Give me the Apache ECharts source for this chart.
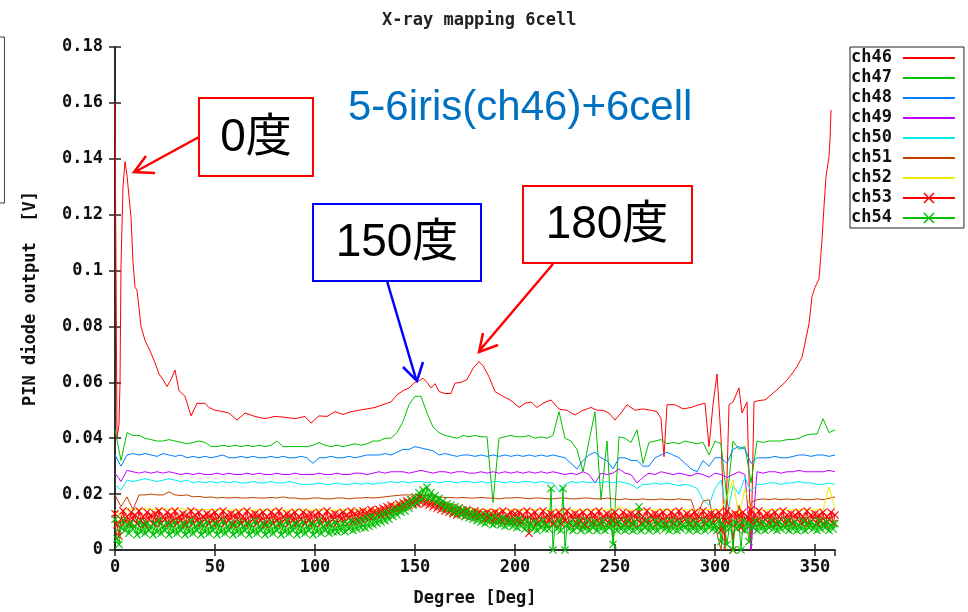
<!DOCTYPE html>
<html>
<head>
<meta charset="utf-8">
<script src="https://cdn.jsdelivr.net/npm/echarts@6/dist/echarts.min.js"></script>
<style>html,body{margin:0;padding:0;background:#fff;}#c{width:968px;height:612px;}</style>
</head>
<body>
<div id="c"></div>
<script>
// ---- data ----
const seriesNames = ['ch46','ch47','ch48','ch49','ch50','ch51','ch52','ch53','ch54'];
const xTicks = [0,50,100,150,200,250,300,350];
const yTicks = [0,0.02,0.04,0.06,0.08,0.1,0.12,0.14,0.16,0.18];

const ch46Deg = [
 0,0.5,1,2,2.5,3,4,5,6,8,
 9,10,11,13,15,18,20,22,24,26,
 28,30,32,35,38,39,41,45,47,50,
 54,57,61,65,70,75,80,85,90,95,
 98,102,106,110,114,118,122,126,130,134,
 138,141,144,147,150,152,154,156,158,160,
 162,165,168,170,173,176,179,182,184,187,
 190,194,198,202,205,208,211,214,218,222,
 226,230,234,238,241,244,247,250,253,256,
 260,264,268,271,273,274.5,276,280,284,288,
 292,295,297,299,301,303,305,307,309,312,
 313.5,316,318,319.5,322,325,328,332,335,338,
 341,343.5,345,347,348.5,350,352,353.5,354.5,355.5,
 357,357.5,358];
const ch46 = [
 0.160,0.160,0.040,0.045,0.060,0.102,0.130,0.139,0.134,0.119,
 0.103,0.094,0.093,0.080,0.075,0.0705,0.067,0.063,0.061,0.0585,
 0.061,0.0644,0.057,0.055,0.048,0.048,0.0525,0.0525,0.051,0.050,
 0.0495,0.049,0.0465,0.049,0.0478,0.047,0.0478,0.0475,0.047,0.0478,
 0.0454,0.048,0.0478,0.0495,0.0485,0.0495,0.050,0.0505,0.051,0.052,
 0.053,0.0555,0.057,0.058,0.060,0.0605,0.0615,0.060,0.058,0.0595,
 0.0567,0.056,0.056,0.0597,0.060,0.061,0.065,0.0674,0.066,0.062,
 0.0567,0.055,0.0535,0.051,0.0525,0.053,0.051,0.0525,0.0537,0.0504,
 0.050,0.0483,0.050,0.051,0.050,0.050,0.049,0.0465,0.049,0.052,
 0.050,0.0505,0.050,0.0495,0.047,0.0334,0.052,0.052,0.0505,0.051,
 0.052,0.0525,0.037,0.052,0.063,0.040,0.0,0.052,0.053,0.058,
 0.049,0.053,0.0,0.053,0.0535,0.0537,0.0555,0.058,0.060,0.0626,
 0.0656,0.069,0.074,0.081,0.0907,0.094,0.097,0.111,0.123,0.1336,
 0.1408,0.1467,0.1575];

// 3-degree sampling for ch47..ch52
const deg = [
 0,3,6,9,12,15,18,21,24,27,
 30,33,36,39,42,45,48,51,54,57,
 60,63,66,69,72,75,78,81,84,87,
 90,93,96,99,102,105,108,111,114,117,
 120,123,126,129,132,135,138,141,144,147,
 150,153,156,159,162,165,168,171,174,177,
 180,183,186,189,192,195,198,201,204,207,
 210,213,216,219,222,225,228,231,234,237,
 240,243,246,249,252,255,258,261,264,267,
 270,273,276,279,282,285,288,291,294,297,
 300,303,306,309,312,315,318,321,324,327,
 330,333,336,339,342,345,348,351,354,357,
 360];

const ch47 = [
 0.043,0.032,0.042,0.041,0.041,0.040,0.0395,0.039,0.039,0.0395,
 0.039,0.0385,0.038,0.0385,0.039,0.0385,0.037,0.037,0.0375,0.037,
 0.0375,0.037,0.0375,0.037,0.0375,0.037,0.0375,0.039,0.037,0.037,
 0.037,0.037,0.037,0.0375,0.0385,0.0375,0.037,0.0375,0.037,0.0375,
 0.038,0.0375,0.038,0.039,0.039,0.040,0.040,0.042,0.046,0.052,
 0.055,0.055,0.049,0.044,0.042,0.041,0.0405,0.040,0.041,0.0405,
 0.041,0.0405,0.0405,0.017,0.040,0.0405,0.041,0.0405,0.0405,0.041,
 0.040,0.0405,0.040,0.041,0.0495,0.040,0.039,0.036,0.028,0.039,
 0.0495,0.018,0.039,0.002,0.0405,0.040,0.0385,0.043,0.031,0.0385,
 0.039,0.0395,0.038,0.0385,0.038,0.039,0.0385,0.038,0.0385,0.034,
 0.039,0.038,0.018,0.039,0.036,0.037,0.024,0.039,0.0385,0.039,
 0.039,0.039,0.0395,0.0395,0.040,0.041,0.0415,0.0415,0.047,0.042,
 0.043];

const ch48 = [
 0.034,0.030,0.034,0.0345,0.034,0.0345,0.034,0.0335,0.0345,0.034,
 0.0335,0.034,0.033,0.0335,0.033,0.0335,0.033,0.0335,0.034,0.033,
 0.033,0.0335,0.033,0.0335,0.033,0.033,0.0335,0.033,0.0335,0.033,
 0.033,0.0335,0.033,0.031,0.033,0.033,0.0335,0.033,0.033,0.0335,
 0.033,0.0335,0.034,0.034,0.034,0.0345,0.034,0.035,0.036,0.036,
 0.037,0.0365,0.036,0.0355,0.034,0.0345,0.034,0.0335,0.034,0.034,
 0.0335,0.034,0.0335,0.034,0.0335,0.034,0.0335,0.034,0.0335,0.034,
 0.0335,0.034,0.0335,0.034,0.0335,0.033,0.031,0.029,0.032,0.034,
 0.035,0.033,0.032,0.029,0.033,0.033,0.032,0.032,0.030,0.030,
 0.033,0.034,0.035,0.034,0.033,0.031,0.029,0.028,0.032,0.030,
 0.033,0.033,0.031,0.036,0.037,0.036,0.031,0.033,0.033,0.033,
 0.0335,0.033,0.033,0.0335,0.034,0.034,0.0335,0.034,0.034,0.0335,
 0.034];

const ch49 = [
 0.0275,0.0245,0.0285,0.028,0.0275,0.028,0.0275,0.028,0.0275,0.028,
 0.0275,0.027,0.0275,0.027,0.0275,0.027,0.027,0.0275,0.027,0.0275,
 0.027,0.027,0.0275,0.027,0.0275,0.027,0.027,0.0275,0.027,0.027,
 0.0275,0.027,0.027,0.027,0.0275,0.027,0.027,0.0275,0.027,0.027,
 0.0275,0.0275,0.027,0.0275,0.028,0.0275,0.028,0.028,0.028,0.0275,
 0.028,0.0285,0.028,0.0275,0.028,0.028,0.0275,0.028,0.028,0.0275,
 0.0275,0.028,0.0275,0.028,0.0275,0.028,0.0275,0.028,0.0275,0.028,
 0.0275,0.028,0.0275,0.028,0.0275,0.027,0.0275,0.027,0.028,0.027,
 0.024,0.0275,0.027,0.0275,0.029,0.0275,0.027,0.024,0.026,0.0275,
 0.027,0.028,0.0275,0.027,0.0275,0.027,0.0265,0.0275,0.027,0.026,
 0.0275,0.027,0.026,0.027,0.028,0.027,0.0,0.028,0.0275,0.028,
 0.028,0.0275,0.028,0.028,0.0285,0.028,0.028,0.028,0.028,0.0285,
 0.028];

const ch50 = [
 0.0235,0.0215,0.025,0.0245,0.025,0.0255,0.025,0.0245,0.025,0.0255,
 0.025,0.0245,0.025,0.024,0.0245,0.024,0.0245,0.024,0.0245,0.024,
 0.0245,0.024,0.024,0.0245,0.024,0.024,0.0245,0.024,0.024,0.0245,
 0.024,0.0235,0.0235,0.0235,0.024,0.0235,0.0235,0.024,0.0235,0.0235,
 0.024,0.0235,0.024,0.0235,0.024,0.024,0.0245,0.024,0.0245,0.024,
 0.0245,0.0245,0.024,0.0245,0.024,0.0245,0.0245,0.024,0.0245,0.0245,
 0.024,0.0245,0.024,0.0245,0.0245,0.024,0.0245,0.024,0.0245,0.0245,
 0.024,0.0245,0.024,0.024,0.021,0.0235,0.0245,0.024,0.0245,0.024,
 0.0245,0.024,0.0245,0.024,0.0245,0.024,0.0235,0.022,0.0235,0.0235,
 0.024,0.0235,0.024,0.0235,0.023,0.0235,0.023,0.022,0.018,0.016,
 0.022,0.025,0.012,0.023,0.020,0.026,0.021,0.0235,0.0235,0.024,
 0.024,0.0235,0.024,0.024,0.0245,0.024,0.024,0.0235,0.0235,0.024,
 0.0235];

const ch51 = [
 0.0197,0.0155,0.019,0.0145,0.0197,0.0197,0.020,0.0197,0.0197,0.0208,
 0.0197,0.0195,0.0197,0.019,0.0192,0.0188,0.019,0.0186,0.0188,0.0186,
 0.0188,0.0186,0.0186,0.0188,0.0186,0.0186,0.0188,0.0186,0.019,0.0186,
 0.0186,0.0183,0.0183,0.0186,0.0186,0.0183,0.0183,0.0186,0.0186,0.0183,
 0.0186,0.0186,0.0188,0.0186,0.0188,0.019,0.0193,0.0195,0.0197,0.0197,
 0.0197,0.0197,0.0195,0.0193,0.019,0.0188,0.0188,0.0186,0.0188,0.0186,
 0.0186,0.0188,0.0186,0.0186,0.0183,0.0186,0.0186,0.0188,0.0186,0.0183,
 0.0186,0.0186,0.0183,0.0183,0.0186,0.0186,0.0183,0.0183,0.0186,0.0186,
 0.0183,0.0183,0.0186,0.0183,0.018,0.0183,0.018,0.018,0.0183,0.018,
 0.018,0.0183,0.018,0.018,0.0183,0.018,0.018,0.012,0.0175,0.018,
 0.009,0.0,0.018,0.004,0.016,0.006,0.017,0.018,0.0183,0.018,
 0.0183,0.018,0.0183,0.018,0.0183,0.018,0.018,0.0183,0.018,0.0185,
 0.019];

const ch52 = [
 0.0145,0.012,0.0148,0.0145,0.0145,0.0148,0.0145,0.0145,0.0148,0.0145,
 0.0145,0.0148,0.0145,0.0145,0.0143,0.0145,0.0145,0.0143,0.0145,0.0143,
 0.0143,0.0145,0.0143,0.0143,0.0145,0.0143,0.0143,0.0145,0.0143,0.0143,
 0.0143,0.0145,0.0143,0.0143,0.0145,0.0143,0.0143,0.0143,0.0145,0.0143,
 0.0145,0.0143,0.0145,0.0145,0.0145,0.015,0.0158,0.0168,0.0175,0.018,
 0.018,0.0178,0.0175,0.017,0.0165,0.016,0.0158,0.0155,0.015,0.0148,
 0.0145,0.0145,0.0143,0.0145,0.0143,0.0145,0.0143,0.0145,0.0143,0.0145,
 0.0143,0.0145,0.0143,0.0143,0.0145,0.0143,0.0145,0.0143,0.0143,0.0145,
 0.0143,0.0145,0.0143,0.0145,0.0155,0.0145,0.0143,0.0145,0.0143,0.0145,
 0.0143,0.0145,0.0143,0.0145,0.0143,0.0145,0.0143,0.0145,0.0143,0.0145,
 0.0145,0.0143,0.019,0.025,0.012,0.022,0.014,0.0145,0.0143,0.0145,
 0.0143,0.0145,0.0143,0.0145,0.0143,0.0145,0.0143,0.0145,0.0143,0.0225,
 0.0145];

// 1-degree sampling for the marked channels ch53, ch54
const deg1 = [
 0,1,2,3,4,5,6,7,8,9,10,11,12,13,14,15,16,17,18,19,
 20,21,22,23,24,25,26,27,28,29,30,31,32,33,34,35,36,37,38,39,
 40,41,42,43,44,45,46,47,48,49,50,51,52,53,54,55,56,57,58,59,
 60,61,62,63,64,65,66,67,68,69,70,71,72,73,74,75,76,77,78,79,
 80,81,82,83,84,85,86,87,88,89,90,91,92,93,94,95,96,97,98,99,
 100,101,102,103,104,105,106,107,108,109,110,111,112,113,114,115,116,117,118,119,
 120,121,122,123,124,125,126,127,128,129,130,131,132,133,134,135,136,137,138,139,
 140,141,142,143,144,145,146,147,148,149,150,151,152,153,154,155,156,157,158,159,
 160,161,162,163,164,165,166,167,168,169,170,171,172,173,174,175,176,177,178,179,
 180,181,182,183,184,185,186,187,188,189,190,191,192,193,194,195,196,197,198,199,
 200,201,202,203,204,205,206,207,208,209,210,211,212,213,214,215,216,217,218,219,
 220,221,222,223,224,225,226,227,228,229,230,231,232,233,234,235,236,237,238,239,
 240,241,242,243,244,245,246,247,248,249,250,251,252,253,254,255,256,257,258,259,
 260,261,262,263,264,265,266,267,268,269,270,271,272,273,274,275,276,277,278,279,
 280,281,282,283,284,285,286,287,288,289,290,291,292,293,294,295,296,297,298,299,
 300,301,302,303,304,305,306,307,308,309,310,311,312,313,314,315,316,317,318,319,
 320,321,322,323,324,325,326,327,328,329,330,331,332,333,334,335,336,337,338,339,
 340,341,342,343,344,345,346,347,348,349,350,351,352,353,354,355,356,357,358,359,
 360];

const ch53 = [
 .013,.009,.005,.011,.014,.010,.012,.0095,.0135,.011,
 .0125,.0095,.014,.0105,.012,.009,.0135,.011,.0125,.0095,
 .013,.0105,.014,.0095,.012,.011,.0135,.0095,.0125,.0105,
 .014,.0095,.012,.0105,.013,.009,.0125,.011,.014,.0095,
 .0125,.0105,.0135,.0095,.012,.011,.013,.0095,.0125,.0105,
 .0135,.0095,.012,.011,.014,.0095,.0125,.0105,.013,.009,
 .0125,.011,.0135,.0095,.012,.0105,.014,.0095,.0125,.011,
 .013,.0095,.0125,.0105,.0135,.009,.012,.011,.0135,.0095,
 .0125,.0105,.014,.0095,.012,.011,.013,.0095,.0125,.0105,
 .0135,.0095,.012,.011,.0135,.0095,.0125,.0105,.013,.0095,
 .0125,.011,.0135,.0095,.012,.0105,.014,.0095,.0125,.011,
 .013,.0095,.0125,.011,.0135,.010,.0125,.0115,.014,.010,
 .013,.0105,.0135,.011,.014,.0115,.0135,.012,.0145,.012,
 .014,.0125,.0145,.0125,.015,.013,.0155,.0135,.016,.014,
 .0155,.0145,.0165,.015,.017,.0155,.0175,.016,.018,.0165,
 .018,.0165,.019,.017,.0185,.0165,.018,.016,.0175,.0155,
 .017,.015,.0165,.0145,.016,.014,.0155,.0135,.015,.013,
 .0145,.0125,.015,.013,.014,.012,.0145,.0125,.0135,.012,
 .014,.0115,.0135,.012,.013,.011,.0135,.0115,.013,.0105,
 .0135,.011,.013,.0105,.014,.011,.0125,.0105,.0135,.010,
 .013,.0105,.0135,.010,.0125,.011,.014,.006,.0125,.0105,
 .0135,.0095,.012,.011,.014,.0095,.0125,.0105,.013,.0095,
 .0125,.011,.0135,.0095,.012,.0105,.014,.0095,.0125,.011,
 .013,.0095,.0125,.0105,.0135,.009,.012,.011,.0135,.0095,
 .0125,.0105,.014,.0095,.012,.011,.013,.0095,.0125,.0105,
 .0135,.0095,.012,.011,.0135,.0095,.0125,.0105,.013,.0095,
 .0125,.011,.0135,.0095,.012,.0105,.014,.0095,.0125,.011,
 .013,.0095,.0125,.0105,.0135,.009,.012,.011,.0135,.0095,
 .0125,.0105,.014,.0095,.012,.011,.013,.0095,.0125,.0105,
 .0135,.0095,.012,.011,.014,.0095,.0125,.0105,.013,.0095,
 .0125,.011,.0135,.007,.012,.0105,.014,.0095,.0125,.0,
 .013,.0095,.0125,.008,.0135,.011,.012,.0105,.0145,.0095,
 .0125,.0105,.014,.0095,.012,.011,.013,.0095,.0125,.0105,
 .0135,.0095,.012,.011,.014,.0095,.0125,.0105,.013,.0095,
 .0125,.011,.0135,.0095,.012,.0105,.014,.0095,.0125,.011,
 .013,.0095,.0125,.0105,.0135,.009,.012,.011,.0135,.0095,
 .0125];

const ch54 = [
 .011,.004,.002,.008,.0105,.007,.009,.006,.0095,.0075,
 .0085,.0055,.010,.0065,.009,.006,.0095,.007,.0085,.0055,
 .0095,.0065,.0105,.006,.0085,.007,.0095,.0055,.009,.0065,
 .010,.006,.0085,.007,.0095,.0055,.009,.0065,.0105,.006,
 .0085,.007,.0095,.0055,.009,.0065,.010,.006,.0085,.007,
 .0095,.0055,.009,.0065,.0105,.006,.0085,.007,.0095,.0055,
 .009,.0065,.010,.006,.0085,.007,.0095,.0055,.009,.0065,
 .0105,.006,.0085,.007,.0095,.0055,.009,.0065,.010,.006,
 .0085,.007,.0095,.0055,.009,.0065,.0105,.006,.0085,.007,
 .0095,.0055,.009,.0065,.010,.006,.0085,.007,.0095,.0055,
 .009,.0065,.0105,.006,.0085,.007,.0095,.006,.009,.0065,
 .010,.0065,.009,.007,.0095,.0065,.0095,.0075,.0105,.007,
 .010,.0075,.0105,.008,.011,.008,.0115,.0085,.012,.009,
 .0115,.0095,.0125,.010,.013,.0105,.0135,.011,.014,.012,
 .0145,.0125,.015,.0135,.016,.014,.017,.015,.018,.016,
 .019,.017,.0205,.018,.0215,.019,.0225,.0185,.0205,.018,
 .0195,.017,.0185,.016,.0175,.015,.0165,.0145,.016,.0135,
 .0155,.013,.015,.0125,.0145,.012,.014,.0115,.0135,.011,
 .013,.0105,.0125,.010,.012,.0095,.0125,.010,.0115,.009,
 .012,.0095,.011,.009,.0115,.0085,.011,.009,.0105,.0085,
 .0105,.008,.011,.0085,.010,.0075,.0105,.008,.0095,.0075,
 .010,.007,.0095,.008,.0105,.0075,.009,.0075,.022,.0,
 .0095,.0075,.0105,.007,.022,.0,.009,.0075,.010,.007,
 .0095,.008,.0105,.007,.009,.0075,.0105,.007,.0095,.008,
 .010,.007,.0095,.0075,.0105,.007,.009,.008,.0105,.002,
 .0095,.007,.010,.0075,.009,.007,.0105,.0075,.0095,.007,
 .010,.0075,.0155,.007,.0095,.008,.0105,.007,.009,.0075,
 .0105,.007,.0095,.008,.010,.0075,.009,.007,.0105,.0075,
 .0095,.007,.010,.0075,.009,.008,.0105,.007,.0095,.0075,
 .010,.007,.009,.0075,.0105,.007,.0095,.008,.010,.0075,
 .009,.007,.0105,.003,.0095,.008,.002,.0075,.0095,.0,
 .010,.0075,.009,.0,.0105,.007,.0095,.003,.009,.008,
 .0105,.007,.0095,.0075,.010,.007,.009,.008,.0105,.0075,
 .0095,.007,.010,.0075,.009,.008,.0105,.007,.0095,.0075,
 .010,.007,.009,.0075,.0105,.007,.0095,.008,.010,.0075,
 .009,.007,.0105,.0075,.0095,.008,.010,.007,.009,.0075,
 .0095];

// ---- chart ----
const colors = {
  ch46:'#ff0000', ch47:'#00c000', ch48:'#0080ff', ch49:'#c000ff', ch50:'#00eeee',
  ch51:'#c04000', ch52:'#eeee00', ch53:'#ff0000', ch54:'#00c000'
};
const MONO = '"DejaVu Sans Mono", "Liberation Mono", monospace';
const SANS = '"Liberation Sans", "Noto Sans CJK JP", sans-serif';
const XPATH = 'path://M0,1L1,0L5,4L9,0L10,1L6,5L10,9L9,10L5,6L1,10L0,9L4,5Z';

const lineValues = {ch47, ch48, ch49, ch50, ch51, ch52};

function mkSeries(name, xs, ys, marked) {
  return {
    name, type:'line', xAxisIndex:0, yAxisIndex:0,
    data: xs.map((d,i)=>[d, ys[i]]),
    symbol: marked ? XPATH : 'none',
    symbolSize: 8,
    showAllSymbol: true,
    lineStyle:{color:colors[name], width:1},
    itemStyle:{color:colors[name]},
    emphasis:{disabled:true},
    animation:false
  };
}

const series = [mkSeries('ch46', ch46Deg, ch46, false)];
['ch47','ch48','ch49','ch50','ch51','ch52'].forEach(n=>series.push(mkSeries(n, deg, lineValues[n], false)));
series.push(mkSeries('ch53', deg1, ch53, true));
series.push(mkSeries('ch54', deg1, ch54, true));

const axisLineStyle = {color:'#222', width:1.5};
const tickStyle = {show:true, inside:true, length:6, lineStyle:{color:'#222', width:1.5}};
const labelFont = {fontFamily:MONO, fontWeight:'bold', fontSize:17, color:'#111'};

function fmtY(v){ return String(Math.round(v*100)/100); }

const legendData = seriesNames.map(n => (n==='ch53'||n==='ch54')
  ? {name:n}
  : {name:n, itemStyle:{opacity:0}});

const option = {
  animation:false,
  backgroundColor:'#fff',
  title:{
    text:'X-ray mapping 6cell', left:377, top:7,
    textStyle:{fontFamily:MONO, fontWeight:'bold', fontSize:17, color:'#222'}
  },
  grid:{left:115, top:47, right:133, bottom:62, containLabel:false},
  legend:{
    data:legendData, orient:'vertical', left:850, top:47,
    align:'right', itemWidth:52, itemHeight:14, itemGap:0,
    padding:[1,8,0,1], borderColor:'#222', borderWidth:1,
    textStyle:{fontFamily:MONO, fontWeight:'bold', fontSize:17, color:'#111', lineHeight:20, padding:[0,6,0,0]},
    selectedMode:false
  },
  xAxis:[
    {type:'value', position:'bottom', min:0, max:360, interval:50,
     name:'Degree [Deg]', nameLocation:'middle', nameGap:40,
     nameTextStyle:{fontFamily:MONO, fontWeight:'bold', fontSize:17, color:'#111'},
     axisLine:{show:true, lineStyle:axisLineStyle}, axisTick:tickStyle,
     axisLabel:{...labelFont, margin:9, showMaxLabel:false,
       formatter:(v)=> xTicks.includes(v) ? String(v) : ''},
     splitLine:{show:false}},
    {type:'value', position:'top', min:0, max:360, interval:50,
     axisLine:{show:true, lineStyle:axisLineStyle}, axisTick:tickStyle,
     axisLabel:{show:false}, splitLine:{show:false}}
  ],
  yAxis:[
    {type:'value', position:'left', min:0, max:0.18, interval:0.02,
     name:'PIN diode output  [V]', nameLocation:'middle', nameGap:76, nameRotate:90,
     nameTextStyle:{fontFamily:MONO, fontWeight:'bold', fontSize:17, color:'#111'},
     axisLine:{show:true, lineStyle:axisLineStyle}, axisTick:tickStyle,
     axisLabel:{...labelFont, margin:12, formatter:(v)=> yTicks.some(t=>Math.abs(t-v)<1e-9) ? fmtY(v) : ''},
     splitLine:{show:false}},
    {type:'value', position:'right', min:0, max:0.18, interval:0.02,
     axisLine:{show:true, lineStyle:axisLineStyle}, axisTick:tickStyle,
     axisLabel:{show:false}, splitLine:{show:false}}
  ],
  series,
  graphic:[
    {type:'rect', z:50, shape:{x:-10,y:37,width:14.5,height:166}, style:{fill:'none', stroke:'#444', lineWidth:1}},
    // 0度
    {type:'line', z:50, shape:{x1:199,y1:137,x2:135,y2:172}, style:{stroke:'#ff0000', lineWidth:2.5}},
    {type:'polyline', z:50, shape:{points:[[155,173],[134,172],[146,156]]}, style:{stroke:'#ff0000', lineWidth:2.5, fill:'none'}},
    {type:'rect', z:50, shape:{x:199,y:98,width:114,height:78}, style:{fill:'#fff', stroke:'#ff0000', lineWidth:2}},
    {type:'text', z:51, style:{text:'0度', x:256, y:138, font:'46px '+SANS, fill:'#000', align:'center', verticalAlign:'middle'}},
    // blue caption
    {type:'text', z:51, style:{text:'5-6iris(ch46)+6cell', x:348, y:108, font:'42px '+SANS, fill:'#0070c0', align:'left', verticalAlign:'middle'}},
    // 150度
    {type:'line', z:50, shape:{x1:387,y1:281,x2:416,y2:379}, style:{stroke:'#0000ff', lineWidth:2.5}},
    {type:'polyline', z:50, shape:{points:[[403,367],[417,381],[423,362]]}, style:{stroke:'#0000ff', lineWidth:2.5, fill:'none'}},
    {type:'rect', z:50, shape:{x:313,y:204,width:168,height:77}, style:{fill:'#fff', stroke:'#0000ff', lineWidth:2}},
    {type:'text', z:51, style:{text:'150度', x:397, y:243, font:'46px '+SANS, fill:'#000', align:'center', verticalAlign:'middle'}},
    // 180度
    {type:'line', z:50, shape:{x1:553,y1:264,x2:480,y2:350}, style:{stroke:'#ff0000', lineWidth:2.5}},
    {type:'polyline', z:50, shape:{points:[[483,333],[479,352],[498,345]]}, style:{stroke:'#ff0000', lineWidth:2.5, fill:'none'}},
    {type:'rect', z:50, shape:{x:523,y:186,width:169,height:77}, style:{fill:'#fff', stroke:'#ff0000', lineWidth:2}},
    {type:'text', z:51, style:{text:'180度', x:607, y:225, font:'46px '+SANS, fill:'#000', align:'center', verticalAlign:'middle'}}
  ]
};

const chart = echarts.init(document.getElementById('c'), null, {renderer:'canvas'});
chart.setOption(option);
</script>
</body>
</html>
